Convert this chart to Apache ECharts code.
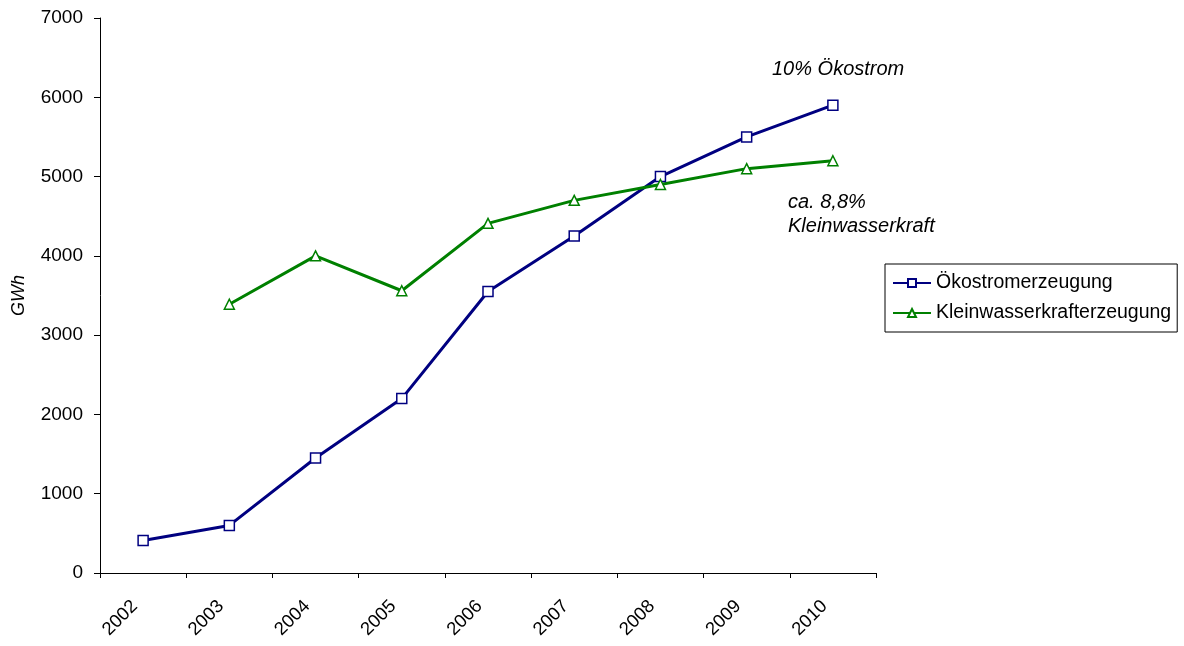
<!DOCTYPE html>
<html><head><meta charset="utf-8">
<script src="https://cdn.jsdelivr.net/npm/echarts@6/dist/echarts.min.js"></script>
<style>html,body{margin:0;padding:0;background:#fff}#c{width:1184px;height:646px}</style>
</head><body><div id="c"></div>
<script>
var years = ['2002','2003','2004','2005','2006','2007','2008','2009','2010'];
var oekostrom = [410, 600, 1450, 2200, 3550, 4250, 5000, 5500, 5900];
var kleinwasser = [null, 3390, 4000, 3560, 4410, 4700, 4900, 5100, 5200];
var yTicks = {min: 0, max: 7000, interval: 1000};

var font = 'Liberation Sans, Arial, sans-serif';
var chart = echarts.init(document.getElementById('c'));
chart.setOption({
  animation: false,
  grid: {left: 100, right: 308, top: 18, bottom: 73, containLabel: false, outerBoundsMode: 'none'},
  xAxis: {
    type: 'category', data: years, boundaryGap: true,
    axisLine: {lineStyle: {color: '#000', width: 1}},
    axisTick: {show: true, alignWithLabel: false, length: 5, lineStyle: {color: '#000'}},
    axisLabel: {rotate: 45, color: '#000', fontSize: 18.5, fontFamily: font, margin: 22, interval: 0, padding: [0, 12, 0, 0]},
    splitLine: {show: false}
  },
  yAxis: {
    type: 'value', min: yTicks.min, max: yTicks.max, interval: yTicks.interval,
    name: 'GWh', nameLocation: 'middle', nameGap: 72, nameRotate: 90,
    nameTextStyle: {fontStyle: 'italic', fontSize: 18, color: '#000', fontFamily: font},
    axisLine: {show: true, lineStyle: {color: '#000', width: 1}},
    axisTick: {show: true, length: 6, lineStyle: {color: '#000'}},
    axisLabel: {color: '#000', fontSize: 19, fontFamily: font, margin: 17, formatter: function (v) { return String(v); }},
    splitLine: {show: false}
  },
  legend: {
    orient: 'vertical', left: 885, top: 264,
    borderColor: '#000', borderWidth: 1, borderRadius: 0,
    padding: [9, 6, 9, 7], itemGap: 10, itemWidth: 38, itemHeight: 10,
    textStyle: {fontSize: 19.5, fontFamily: font, color: '#000'},
    data: ['Ökostromerzeugung', 'Kleinwasserkrafterzeugung']
  },
  series: [
    {
      name: 'Ökostromerzeugung', type: 'line', data: oekostrom,
      symbol: 'rect', symbolSize: 10, showAllSymbol: true,
      lineStyle: {color: '#000080', width: 3},
      itemStyle: {color: '#fff', borderColor: '#000080', borderWidth: 1.5}
    },
    {
      name: 'Kleinwasserkrafterzeugung', type: 'line', data: kleinwasser,
      symbol: 'triangle', symbolSize: 10, showAllSymbol: true,
      lineStyle: {color: '#008000', width: 3},
      itemStyle: {color: '#fff', borderColor: '#008000', borderWidth: 1.5}
    }
  ],
  graphic: [
    {type: 'text', left: 772, top: 59, style: {text: '10% Ökostrom', fontSize: 20, fontStyle: 'italic', fontFamily: font, fill: '#000'}},
    {type: 'text', left: 788, top: 190, style: {text: 'ca. 8,8%\nKleinwasserkraft', fontSize: 20, fontStyle: 'italic', fontFamily: font, fill: '#000', lineHeight: 24}}
  ]
});
</script>
</body></html>
